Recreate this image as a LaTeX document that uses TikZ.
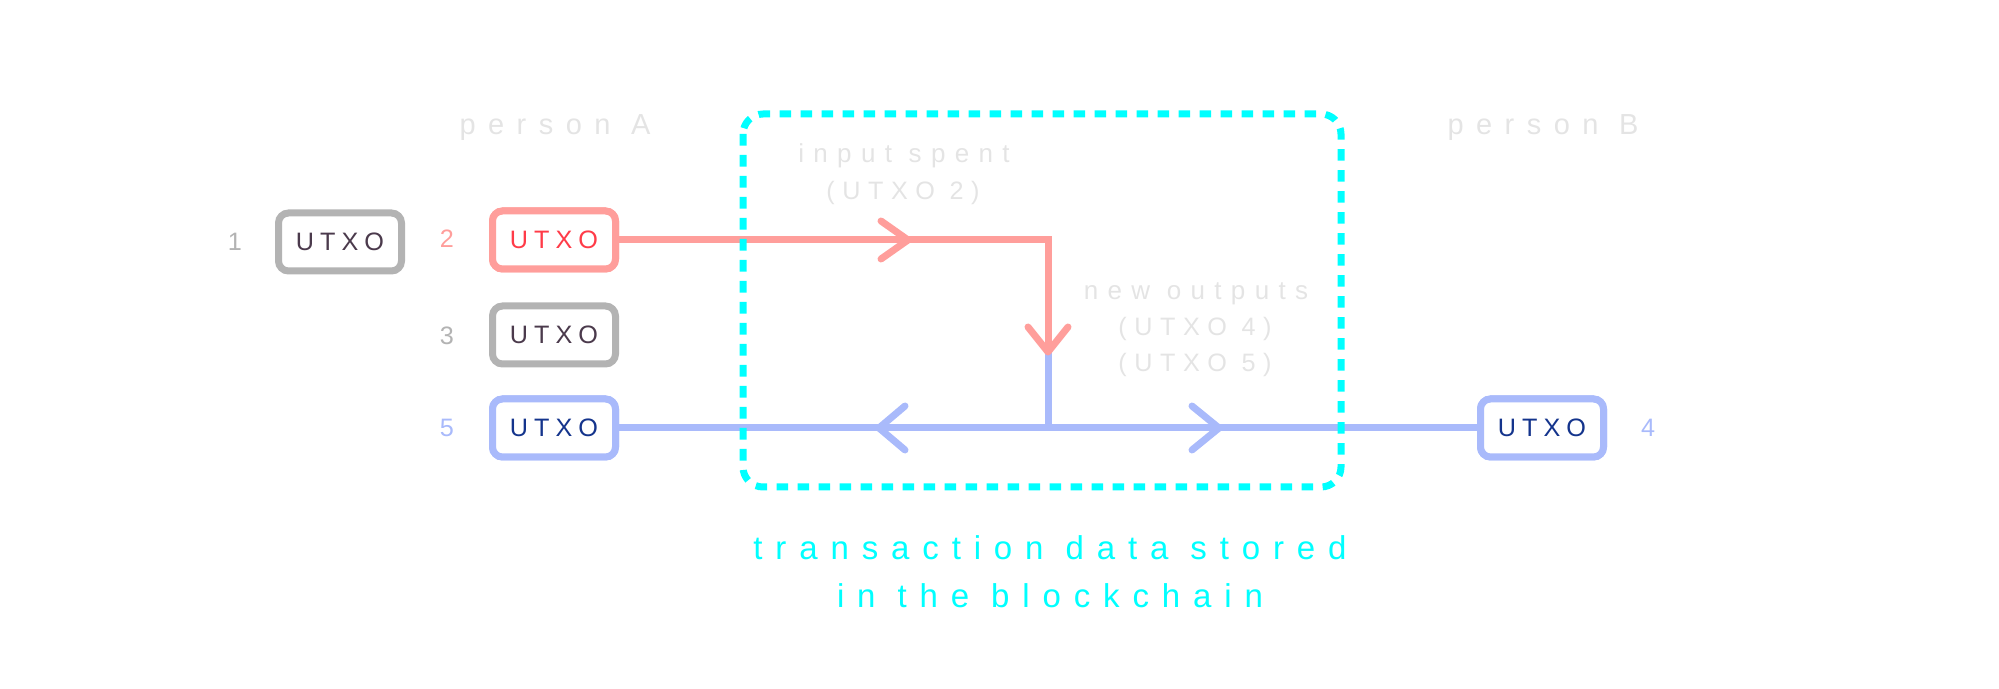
\documentclass[tikz,border=0pt]{standalone}
\usepackage{fontspec}
\setmainfont{Liberation Sans}
\newfontfamily\boxfont[LetterSpace=24]{Liberation Sans}
\newfontfamily\personfont[LetterSpace=43]{Liberation Sans}
\newfontfamily\notefont[LetterSpace=36]{Liberation Sans}
\newfontfamily\parenfont[LetterSpace=30]{Liberation Sans}
\newfontfamily\capfont[LetterSpace=39]{Liberation Sans}
\definecolor{gstroke}{HTML}{B3B3B3}
\definecolor{rstroke}{HTML}{FF9E9B}
\definecolor{bstroke}{HTML}{A9BAFB}
\definecolor{gtext}{HTML}{4B3A4C}
\definecolor{rtext}{HTML}{FF3B48}
\definecolor{btext}{HTML}{14348C}
\definecolor{cyanline}{HTML}{00FFFF}
\definecolor{ghost}{HTML}{E4E4E4}
\tikzset{
  utxo/.style={draw, line width=3.5pt, fill=white, rounded corners=5pt,
    minimum width=61.5pt, minimum height=29pt, inner sep=0pt,
    font=\boxfont\fontsize{12.6}{14}\selectfont},
  num/.style={font=\fontsize{12.6}{14}\selectfont, inner sep=0pt},
  ghosttext/.style={text=ghost, inner sep=0pt, anchor=base},
  flow/.style={line width=3.5pt},
  chev/.style={line width=3.5pt, line cap=round, line join=round}
}
\begin{document}
\begin{tikzpicture}[x=0.5pt,y=-0.5pt]
\useasboundingbox (0,0) rectangle (1999,689);
\coordinate (turn) at (1048,240);
\coordinate (join) at (1048,352);
\coordinate (split) at (1048,428);
% boxes
\node[utxo, draw=gstroke, text=gtext] (b1) at (340,242) {UTXO};
\node[utxo, draw=rstroke, text=rtext] (b2) at (554,240) {UTXO};
\node[utxo, draw=gstroke, text=gtext] (b3) at (554,335) {UTXO};
\node[utxo, draw=bstroke, text=btext] (b5) at (554,428) {UTXO};
\node[utxo, draw=bstroke, text=btext] (b4) at (1542,428) {UTXO};
% flow lines
\draw[flow, rstroke] (b2.east) -- (turn) -- (join);
\draw[flow, bstroke] (b5.east) -- (b4.west);
\draw[flow, bstroke] (join) -- (split);
% chevrons
\draw[chev, rstroke] (881,221) -- (908,240) -- (881,259);
\draw[chev, rstroke] (1028,327) -- (1048,352) -- (1068,327);
\draw[chev, bstroke] (905,406) -- (879,428) -- (905,450);
\draw[chev, bstroke] (1192,406) -- (1219,428) -- (1192,450);
% redraw boxes above line ends
\node[utxo, draw=rstroke, text=rtext] at (b2) {UTXO};
\node[utxo, draw=bstroke, text=btext] at (b5) {UTXO};
\node[utxo, draw=bstroke, text=btext] at (b4) {UTXO};
% numbers
\node[num, text=gstroke] (n1) at (235,242) {1};
\node[num, text=rstroke] (n2) at (447,239) {2};
\node[num, text=gstroke] (n3) at (447,336) {3};
\node[num, text=bstroke] (n5) at (447,428) {5};
\node[num, text=bstroke] (n4) at (1648,428) {4};
% ghost labels
\node[ghosttext, font=\personfont\fontsize{14.5}{16}\selectfont] (pa) at (555,135) {person A};
\node[ghosttext, font=\personfont\fontsize{14.5}{16}\selectfont] (pb) at (1543,135) {person B};
\node[ghosttext, font=\notefont\fontsize{13}{15}\selectfont] (is) at (904,163) {input spent};
\node[ghosttext, font=\parenfont\fontsize{12.6}{15}\selectfont] (u2) at (903,200) {(UTXO 2)};
\node[ghosttext, font=\notefont\fontsize{13}{15}\selectfont] (no) at (1196,300) {new outputs};
\node[ghosttext, font=\parenfont\fontsize{12.6}{15}\selectfont] (u4) at (1195,336) {(UTXO 4)};
\node[ghosttext, font=\parenfont\fontsize{12.6}{15}\selectfont] (u5) at (1195,372) {(UTXO 5)};
% dashed transaction box
\draw[cyanline, line width=3.5pt, dash pattern=on 5.8pt off 4.7pt, rounded corners=10pt]
  (743,114) rectangle (1341,487);
\node[text=cyanline, anchor=base, inner sep=0pt, font=\capfont\fontsize{16.5}{24.5}\selectfont] (c1) at (1050,560) {transaction data stored};
\node[text=cyanline, anchor=base, inner sep=0pt, font=\capfont\fontsize{16.5}{24.5}\selectfont] (c2) at (1050,608) {in the blockchain};
\end{tikzpicture}
\end{document}
